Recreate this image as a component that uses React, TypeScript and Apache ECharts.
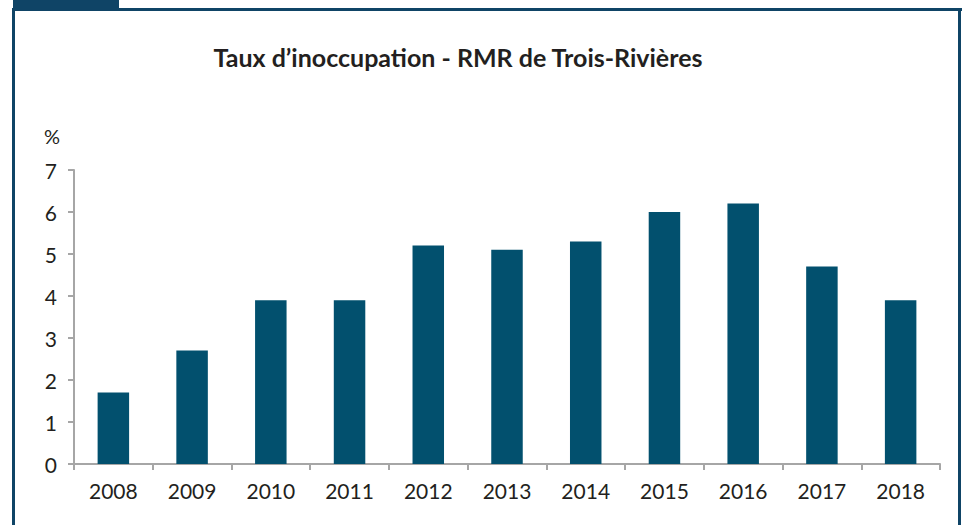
import React, { useEffect, useRef } from "react";
import * as echarts from "echarts";

const title = "Taux d’inoccupation - RMR de Trois-Rivières";
const unitLabel = "%";
const years = ["2008", "2009", "2010", "2011", "2012", "2013", "2014", "2015", "2016", "2017", "2018"];
const vacancyRates = [1.7, 2.7, 3.9, 3.9, 5.2, 5.1, 5.3, 6.0, 6.2, 4.7, 3.9];

const FONT = "Lato, 'Open Sans', sans-serif";
const TEXT = "#231f20";
const FRAME = "#0f4466";
const BAR = "#02506e";
const AXIS = "#a6a6a6";

export default function App() {
  const ref = useRef<HTMLDivElement>(null);
  useEffect(() => {
    if (!ref.current) return;
    const chart = echarts.init(ref.current, null, { renderer: "svg" });
    chart.setOption({
      animation: false,
      backgroundColor: "#ffffff",
      textStyle: { fontFamily: FONT },
      graphic: [
        { type: "rect", shape: { x: 13, y: 0, width: 106, height: 8 }, style: { fill: FRAME } },
        { type: "rect", shape: { x: 12, y: 8, width: 950, height: 3 }, style: { fill: FRAME } },
        { type: "rect", shape: { x: 12, y: 8, width: 3, height: 517 }, style: { fill: FRAME } },
        { type: "rect", shape: { x: 958, y: 8, width: 3, height: 517 }, style: { fill: FRAME } },
        {
          type: "text",
          x: 458,
          y: 57,
          style: {
            text: title,
            fontFamily: FONT,
            fontWeight: "bold",
            fontSize: 25,
            fill: TEXT,
            textAlign: "center",
            textVerticalAlign: "middle",
          },
        },
        {
          type: "text",
          x: 52,
          y: 136,
          style: {
            text: unitLabel,
            fontFamily: FONT,
            fontSize: 20,
            fill: TEXT,
            textAlign: "center",
            textVerticalAlign: "middle",
          },
        },
      ],
      grid: { left: 74, right: 22, top: 170, bottom: 61, containLabel: false },
      xAxis: {
        type: "category",
        data: years,
        boundaryGap: true,
        axisLine: { lineStyle: { color: AXIS, width: 2 } },
        axisTick: { show: true, length: 6, lineStyle: { color: AXIS, width: 2 }, alignWithLabel: false },
        axisLabel: { color: TEXT, fontSize: 21, fontFamily: FONT, margin: 16 },
      },
      yAxis: {
        type: "value",
        min: 0,
        max: 7,
        interval: 1,
        splitLine: { show: false },
        axisLine: { show: true, lineStyle: { color: AXIS, width: 2 } },
        axisTick: { show: true, length: 6, lineStyle: { color: AXIS, width: 2 } },
        axisLabel: { color: TEXT, fontSize: 21, fontFamily: FONT, margin: 17 },
      },
      series: [
        {
          type: "bar",
          data: vacancyRates,
          barWidth: "40%",
          itemStyle: { color: BAR },
        },
      ],
    });
    return () => chart.dispose();
  }, []);
  return (
    <div
      ref={ref}
      style={{ position: "absolute", left: 0, top: 0, width: 962, height: 525 }}
    />
  );
}
